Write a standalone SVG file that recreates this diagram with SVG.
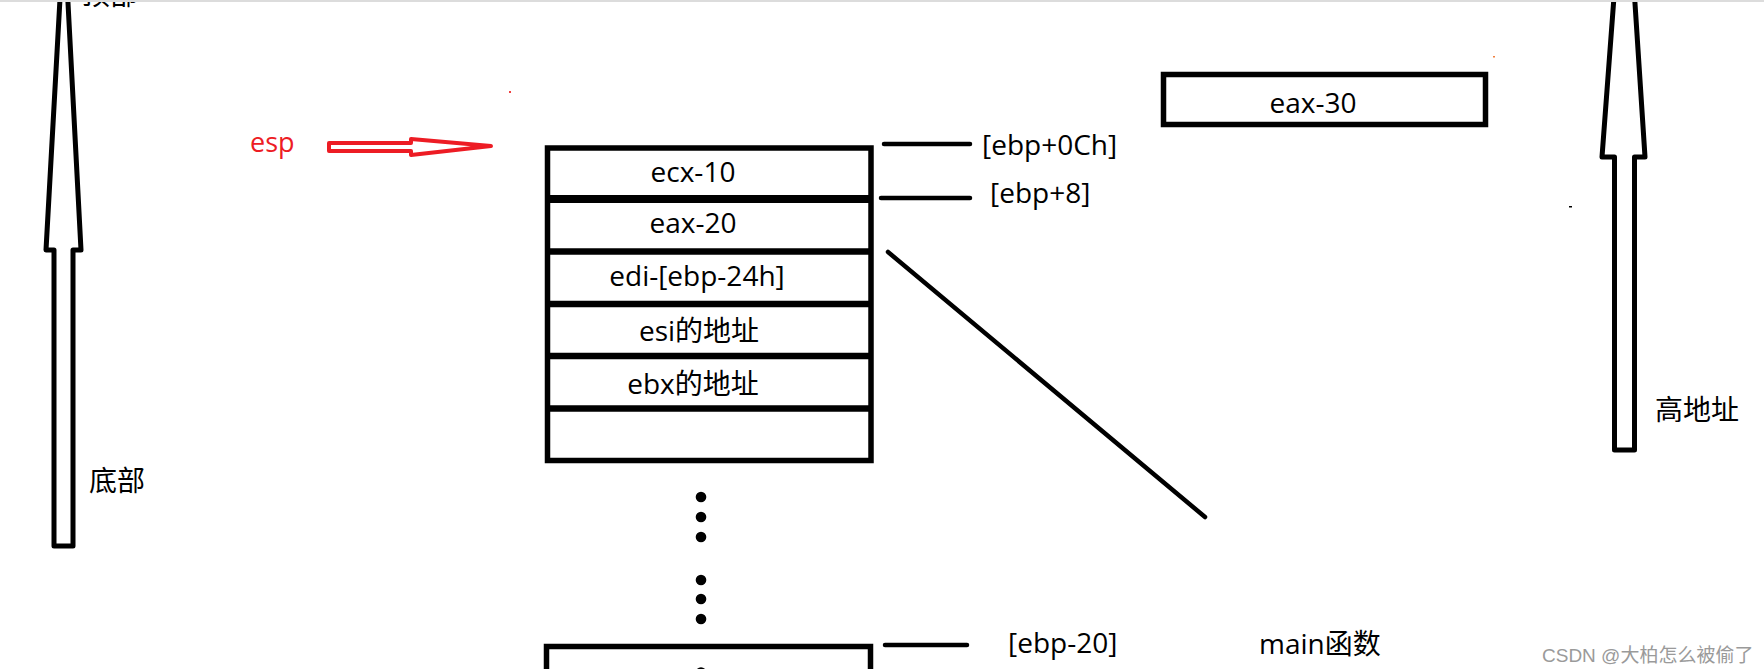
<svg xmlns="http://www.w3.org/2000/svg" width="1764" height="669" viewBox="0 0 1764 669">
  <style>
    .t { font-family: "Open Sans", "Noto Sans CJK SC", sans-serif; font-size: 28px; fill: #000; }
    .box { fill: #fff; stroke: #000; stroke-width: 5.5; }
    .ln { stroke: #000; stroke-width: 4.5; stroke-linecap: round; fill: none; }
    .big { fill: #fff; stroke: #000; stroke-width: 5; stroke-linejoin: round; }
  </style>
  <rect x="0" y="0" width="1764" height="669" fill="#fff"/>

  <g id="arrow-left">
    <polygon class="big" points="64,-73 46,250 54,250 54,546 73,546 73,250 81,250"/>
    <text class="t" x="82" y="5">顶部</text>
    <text class="t" x="89" y="491">底部</text>
  </g>

  <g id="arrow-right">
    <polygon class="big" points="1625,-150 1602,157 1614.5,157 1614.5,450 1634.5,450 1634.5,157 1645,157"/>
    <text class="t" x="1655" y="420">高地址</text>
  </g>

  <g id="esp">
    <text class="t" x="250" y="152" style="fill:#ed1c24;font-size:27px">esp</text>
    <polygon points="329,143 411,143 411,139 491,146 411,155 411,151 329,151" fill="#fff" stroke="#ed1c24" stroke-width="4" stroke-linejoin="round"/>
  </g>

  <g id="stack">
    <rect class="box" x="547.5" y="148" width="323.5" height="312.5"/>
    <line x1="547.5" y1="199" x2="871" y2="199" stroke="#000" stroke-width="8"/>
    <line x1="547.5" y1="251.5" x2="871" y2="251.5" stroke="#000" stroke-width="6.5"/>
    <line x1="547.5" y1="304" x2="871" y2="304" stroke="#000" stroke-width="6.5"/>
    <line x1="547.5" y1="356" x2="871" y2="356" stroke="#000" stroke-width="6.5"/>
    <line x1="547.5" y1="408.5" x2="871" y2="408.5" stroke="#000" stroke-width="6.5"/>
    <text class="t" x="693" y="182" text-anchor="middle">ecx-10</text>
    <text class="t" x="693" y="233" text-anchor="middle">eax-20</text>
    <text class="t" x="697" y="286" text-anchor="middle">edi-[ebp-24h]</text>
    <text class="t" x="699" y="341" text-anchor="middle">esi的地址</text>
    <text class="t" x="693" y="394" text-anchor="middle">ebx的地址</text>
  </g>

  <g id="dots" fill="#000">
    <circle cx="701" cy="497" r="5.3"/>
    <circle cx="701" cy="517" r="5.3"/>
    <circle cx="701" cy="537" r="5.3"/>
    <circle cx="701" cy="580" r="5.3"/>
    <circle cx="701" cy="599" r="5.3"/>
    <circle cx="701" cy="619" r="5.3"/>
  </g>

  <g id="main-frame">
    <rect class="box" x="546.5" y="646.5" width="324" height="40"/>
    <circle cx="701" cy="672.5" r="5.3" fill="#000"/>
    <text class="t" x="1259" y="654">main函数</text>
  </g>

  <g id="eax30">
    <rect class="box" x="1163.5" y="74.5" width="322" height="50" stroke-width="5"/>
    <text class="t" x="1313" y="113" text-anchor="middle">eax-30</text>
  </g>

  <g id="connectors">
    <line class="ln" x1="884" y1="144" x2="970" y2="144"/>
    <line class="ln" x1="881" y1="198" x2="970" y2="198"/>
    <line class="ln" x1="888" y1="252" x2="1205" y2="517"/>
    <line class="ln" x1="885" y1="645" x2="967" y2="645"/>
  </g>

  <g id="labels">
    <text class="t" x="982" y="155">[ebp+0Ch]</text>
    <text class="t" x="990" y="203">[ebp+8]</text>
    <text class="t" x="1008" y="653">[ebp-20]</text>
  </g>

  <g id="specks">
    <rect x="1493" y="56" width="2" height="1.5" fill="#f08040"/>
    <rect x="509" y="91" width="2" height="2" fill="#f04040"/>
    <rect x="1569" y="206" width="3" height="1.5" fill="#000"/>
  </g>

  <rect x="0" y="0" width="1764" height="2" fill="#dcdcdc"/>

  <text x="1542" y="662" style="font-family:'Liberation Sans','Noto Sans CJK SC',sans-serif;font-size:19px;fill:#9a9a9a">CSDN @大柏怎么被偷了</text>
</svg>
